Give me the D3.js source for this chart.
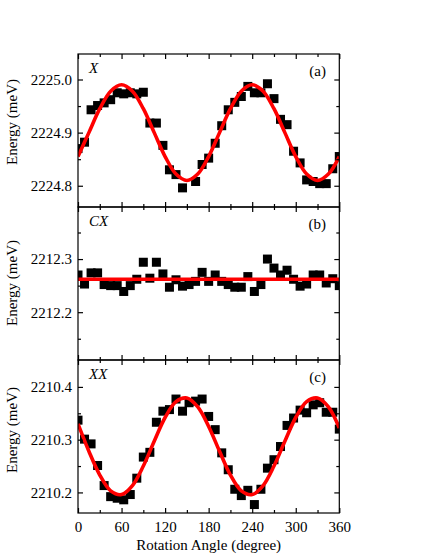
<!DOCTYPE html>
<html>
<head>
<meta charset="utf-8">
<style>
    body {
        margin: 0px;
        background: #fff;
    }
    svg { display: block; }
    text { font-family: "Liberation Serif", "Times New Roman", serif; fill: #000; }
</style>
</head>
<body>
<svg id="chart"></svg>
<script src="https://d3js.org/d3.v7.min.js"></script>
<script>
var width = 431;
var height = 557;

// rotation angles of the measured points (degree)
var angles = [0, 9, 18, 27, 36, 45, 54, 63, 72, 81, 90, 99, 108, 117, 126, 135, 144, 153, 162, 171,
    180, 189, 198, 207, 216, 225, 234, 243, 252, 261, 270, 279, 288, 297, 306, 315, 324, 333, 342, 351, 360];

// (a) X  - point at 153 is missing in the figure
var energyX = [2224.870, 2224.882, 2224.943, 2224.951, 2224.956, 2224.962, 2224.975, 2224.973, 2224.975, 2224.973,
    2224.976, 2224.918, 2224.918, 2224.876, 2224.830, 2224.821, 2224.796, null, 2224.808, 2224.840,
    2224.852, 2224.880, 2224.913, 2224.943, 2224.957, 2224.968, 2224.987, 2224.975, 2224.975, 2224.992,
    2224.964, 2224.925, 2224.915, 2224.865, 2224.843, 2224.811, 2224.808, 2224.804, 2224.804, 2224.832, 2224.855];

// (b) CX
var energyCX = [2212.270, 2212.253, 2212.274, 2212.274, 2212.252, 2212.250, 2212.250, 2212.239, 2212.250, 2212.262,
    2212.294, 2212.264, 2212.294, 2212.272, 2212.247, 2212.261, 2212.249, 2212.252, 2212.258, 2212.275,
    2212.258, 2212.270, 2212.258, 2212.252, 2212.247, 2212.247, 2212.267, 2212.239, 2212.252, 2212.300,
    2212.283, 2212.270, 2212.279, 2212.262, 2212.249, 2212.253, 2212.270, 2212.270, 2212.255, 2212.263, 2212.250];

// (c) XX
var energyXX = [2210.337, 2210.301, 2210.292, 2210.251, 2210.213, 2210.192, 2210.189, 2210.186, 2210.196, 2210.227,
    2210.267, 2210.276, 2210.333, 2210.354, 2210.357, 2210.377, 2210.354, 2210.370, 2210.373, 2210.377,
    2210.344, 2210.319, 2210.275, 2210.243, 2210.206, 2210.194, 2210.204, 2210.177, 2210.206, 2210.246,
    2210.262, 2210.287, 2210.327, 2210.341, 2210.356, 2210.351, 2210.366, 2210.370, 2210.352, 2210.352, 2210.320];

var fitAngles = [0, 15, 30, 45, 60, 75, 90, 105, 120, 135, 150, 165, 180,
    195, 210, 225, 240, 255, 270, 285, 300, 315, 330, 345, 360];
var fitX = [2224.855, 2224.900, 2224.945, 2224.978, 2224.990, 2224.978, 2224.945, 2224.900, 2224.855, 2224.822, 2224.810, 2224.822, 2224.855,
    2224.900, 2224.945, 2224.978, 2224.990, 2224.978, 2224.945, 2224.900, 2224.855, 2224.822, 2224.810, 2224.822, 2224.855];
var fitCXAngles = [0, 360];
var fitCX = [2212.262, 2212.262];
var fitXX = [2210.330, 2210.278, 2210.233, 2210.203, 2210.196, 2210.213, 2210.250, 2210.297, 2210.342, 2210.372, 2210.379, 2210.362, 2210.325,
    2210.278, 2210.233, 2210.203, 2210.196, 2210.213, 2210.250, 2210.297, 2210.342, 2210.372, 2210.379, 2210.362, 2210.322];

// axis ticks
var xMajor = [0, 60, 120, 180, 240, 300, 360];
var xMinor = [30, 90, 150, 210, 270, 330];
var yMajorX = [2224.8, 2224.9, 2225.0];
var yMinorX = [2224.85, 2224.95];
var yMajorCX = [2212.2, 2212.3];
var yMinorCX = [2212.15, 2212.25, 2212.35];
var yMajorXX = [2210.2, 2210.3, 2210.4];
var yMinorXX = [2210.25, 2210.35];

var panels = [
    {name: "X", tag: "(a)", vals: energyX, fa: fitAngles, fit: fitX, dom: [2224.76, 2225.048], major: yMajorX, minor: yMinorX, labelY: 122},
    {name: "CX", tag: "(b)", vals: energyCX, fa: fitCXAngles, fit: fitCX, dom: [2212.11, 2212.398], major: yMajorCX, minor: yMinorCX, labelY: 283},
    {name: "XX", tag: "(c)", vals: energyXX, fa: fitAngles, fit: fitXX, dom: [2210.161, 2210.451], major: yMajorXX, minor: yMinorXX, labelY: 430}
];

var left = 78, right = 339.3, top0 = 54, ph = 153;
var fontSize = 15;
var sq = 9;

var svg = d3.select("#chart").attr("width", width).attr("height", height);

var x = d3.scaleLinear().domain([0, 360]).range([left, right]);

panels.forEach(function(p, i) {
    var top = top0 + i * ph;
    var bottom = top + ph;
    var y = d3.scaleLinear().domain(p.dom).range([bottom, top]);
    var g = svg.append("g");

    var clipId = "clip" + i;
    svg.append("clipPath").attr("id", clipId)
        .append("rect").attr("x", left).attr("y", top).attr("width", right - left).attr("height", ph);

    var plot = g.append("g").attr("clip-path", "url(#" + clipId + ")");

    var pts = angles.map(function(a, j) { return {a: a, v: p.vals[j]}; })
        .filter(function(d) { return d.v != null; });

    plot.selectAll("rect.pt")
        .data(pts)
        .enter()
        .append("rect")
        .attr("class", "pt")
        .attr("x", function(d) { return x(d.a) - sq / 2; })
        .attr("y", function(d) { return y(d.v) - sq / 2; })
        .attr("width", sq)
        .attr("height", sq)
        .attr("fill", "#000");

    var fitData = p.fa.map(function(a, j) { return [a, p.fit[j]]; });
    var line = d3.line()
        .x(function(d) { return x(d[0]); })
        .y(function(d) { return y(d[1]); })
        .curve(d3.curveCatmullRom);

    plot.append("path")
        .datum(fitData)
        .attr("d", line)
        .attr("fill", "none")
        .attr("stroke", "#ff0000")
        .attr("stroke-width", 3.6);

    // ticks on all four sides, pointing inwards
    function addAxis(axis, tx, ty) {
        var a = g.append("g").attr("transform", "translate(" + tx + "," + ty + ")").call(axis);
        a.select(".domain").remove();
        a.selectAll("line").attr("stroke", "#000").attr("stroke-width", 1.2);
        a.selectAll("text").style("font-family", '"Liberation Serif", "Times New Roman", serif')
            .style("font-size", fontSize + "px").attr("fill", "#000");
        return a;
    }

    addAxis(d3.axisLeft(y).tickValues(p.major).tickSize(-5).tickPadding(6).tickFormat(d3.format(".1f")), left, 0);
    addAxis(d3.axisLeft(y).tickValues(p.minor).tickSize(-3).tickFormat(""), left, 0);
    addAxis(d3.axisRight(y).tickValues(p.major).tickSize(-5).tickFormat(""), right, 0);
    addAxis(d3.axisRight(y).tickValues(p.minor).tickSize(-3).tickFormat(""), right, 0);
    addAxis(d3.axisTop(x).tickValues(xMajor).tickSize(-5).tickFormat(""), 0, top);
    addAxis(d3.axisTop(x).tickValues(xMinor).tickSize(-3).tickFormat(""), 0, top);
    var lastPanel = i == panels.length - 1;
    addAxis(d3.axisBottom(x).tickValues(xMajor).tickSize(-5).tickPadding(8)
        .tickFormat(lastPanel ? d3.format("d") : ""), 0, bottom);
    addAxis(d3.axisBottom(x).tickValues(xMinor).tickSize(-3).tickFormat(""), 0, bottom);

    g.append("rect")
        .attr("x", left).attr("y", top)
        .attr("width", right - left).attr("height", ph)
        .attr("fill", "none")
        .attr("stroke", "#000")
        .attr("stroke-width", 1.2);

    g.append("text")
        .attr("x", 89)
        .attr("y", top + 19)
        .style("font-size", fontSize + "px")
        .style("font-style", "italic")
        .text(p.name);

    g.append("text")
        .attr("x", 326)
        .attr("y", top + 22)
        .attr("text-anchor", "end")
        .style("font-size", fontSize + "px")
        .text(p.tag);

    g.append("text")
        .attr("transform", "translate(17," + p.labelY + ") rotate(-90)")
        .attr("text-anchor", "middle")
        .style("font-size", fontSize + "px")
        .text("Energy (meV)");
});

svg.append("text")
    .attr("x", (left + right) / 2)
    .attr("y", 550)
    .attr("text-anchor", "middle")
    .style("font-size", fontSize + "px")
    .text("Rotation Angle (degree)");
</script>
</body>
</html>
